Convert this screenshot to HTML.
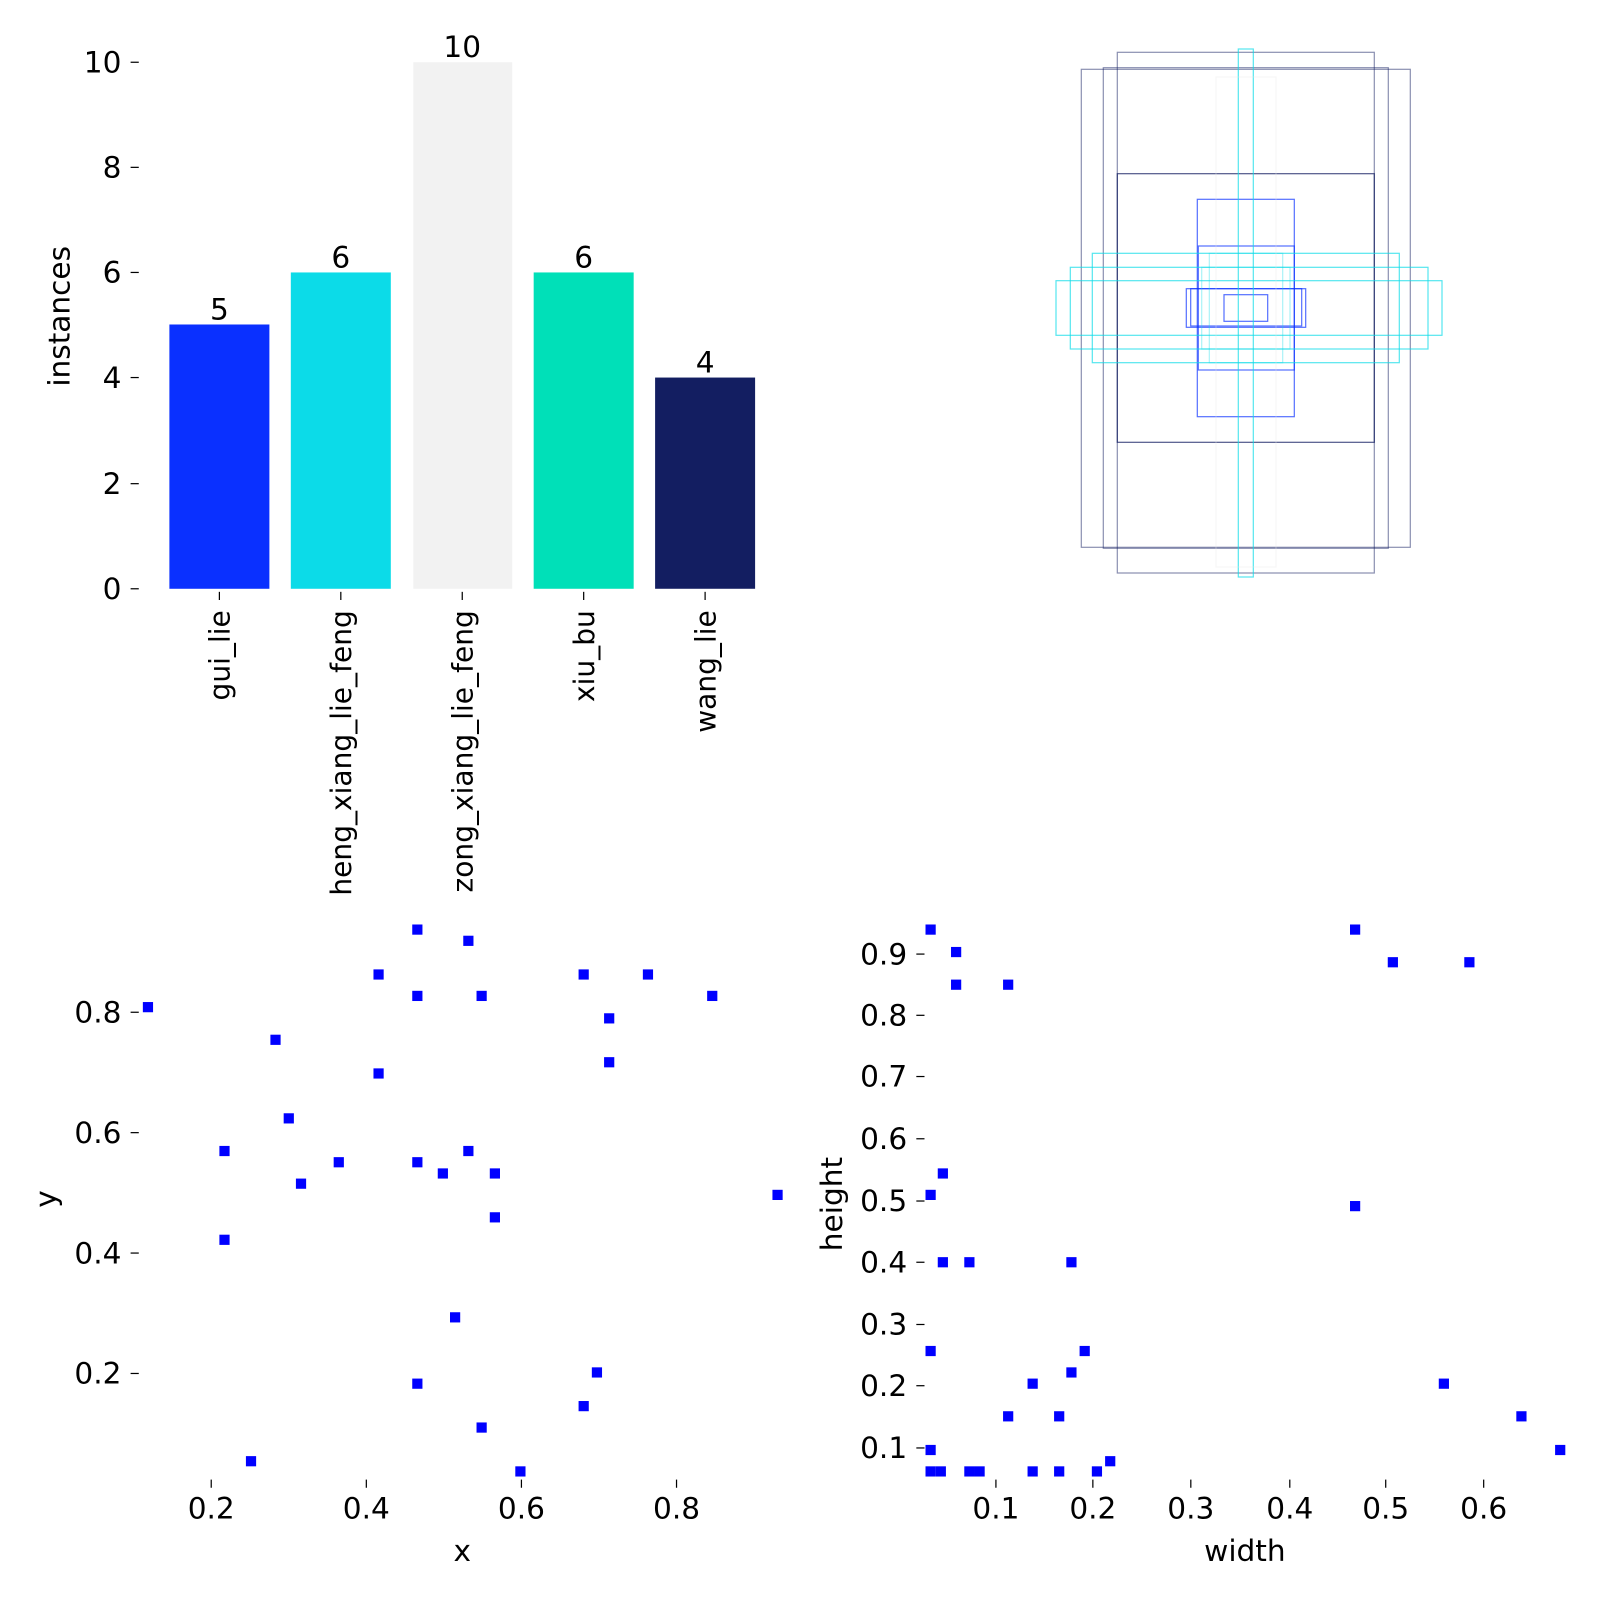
<!DOCTYPE html>
<html><head><meta charset="utf-8"><style>html,body{margin:0;padding:0;background:#fff}svg{display:block}text{font-family:"DejaVu Sans","Liberation Sans",sans-serif;fill:#000}</style></head><body>
<svg width="1600" height="1600" viewBox="0 0 1568 1568" xmlns="http://www.w3.org/2000/svg">
<rect width="1568" height="1568" fill="#fff"/>
<!-- bar chart -->
<g font-size="29">
<rect x="166" y="318" width="98" height="259" fill="#0a30ff"/>
<rect x="285" y="267" width="98" height="310" fill="#0cdbe8"/>
<rect x="405" y="61" width="97" height="516" fill="#f2f2f2"/>
<rect x="523" y="267" width="98" height="310" fill="#00e0b8"/>
<rect x="642" y="370" width="98" height="207" fill="#131e61"/>
<g text-anchor="middle"><text x="215" y="313">5</text><text x="334" y="262">6</text><text x="453" y="56">10</text><text x="572" y="262">6</text><text x="691" y="365">4</text></g>
<g stroke="#000" stroke-width="1.2"><line x1="128" x2="136" y1="577" y2="577"/><line x1="128" x2="136" y1="474" y2="474"/><line x1="128" x2="136" y1="370" y2="370"/><line x1="128" x2="136" y1="267" y2="267"/><line x1="128" x2="136" y1="164" y2="164"/><line x1="128" x2="136" y1="61" y2="61"/>
<line x1="215" x2="215" y1="580" y2="588"/><line x1="334" x2="334" y1="580" y2="588"/><line x1="453" x2="453" y1="580" y2="588"/><line x1="572" x2="572" y1="580" y2="588"/><line x1="691" x2="691" y1="580" y2="588"/></g>
<g text-anchor="end"><text x="119" y="587">0</text><text x="119" y="484">2</text><text x="119" y="380">4</text><text x="119" y="277">6</text><text x="119" y="174">8</text><text x="119" y="71">10</text></g>
<text transform="translate(68,310) rotate(-90)" text-anchor="middle">instances</text>
<g text-anchor="end" font-size="27.5">
<text transform="translate(225,598) rotate(-90)">gui_lie</text>
<text transform="translate(344,598) rotate(-90)">heng_xiang_lie_feng</text>
<text transform="translate(463,598) rotate(-90)">zong_xiang_lie_feng</text>
<text transform="translate(582,598) rotate(-90)">xiu_bu</text>
<text transform="translate(701,598) rotate(-90)">wang_lie</text>
</g>
</g>
<!-- boxes -->
<g transform="scale(0.98)" fill="none" stroke-width="1.2">
<g stroke="#131e61" stroke-opacity="0.5">
<rect x="1117.3" y="52.3" width="257" height="520.7"/>
<rect x="1103.3" y="67.7" width="285" height="480.6"/>
<rect x="1081.3" y="69.3" width="329" height="478"/>
<rect x="1117.3" y="173.7" width="257" height="268.6" stroke-opacity="0.75"/>
</g>
<g stroke="#0a30ff" stroke-opacity="0.7">
<rect x="1197.3" y="199.3" width="97" height="217.4"/>
<rect x="1198.3" y="246" width="96" height="124"/>
<rect x="1186.3" y="288.7" width="119.4" height="38.6"/>
<rect x="1190.7" y="288.7" width="111" height="37.3"/>
<rect x="1224" y="294.7" width="43.7" height="26.6"/>
</g>
<g stroke="#0cdbe8" stroke-opacity="0.7">
<rect x="1238.3" y="49" width="15" height="528"/>
<rect x="1092.3" y="253.3" width="307" height="109.4"/>
<rect x="1070.3" y="267.3" width="357.7" height="81.7"/>
<rect x="1056" y="280.7" width="386" height="54.6"/>
<rect x="1201.7" y="267.3" width="88.3" height="81.7" stroke-opacity="0.35"/>
<rect x="1209.3" y="253.3" width="73.4" height="109.4" stroke-opacity="0.35"/>
</g>
<g stroke="#e8e8e8" stroke-opacity="0.35"><rect x="1216" y="77" width="60" height="490"/></g>
</g>
<!-- scatter x,y -->
<g fill="#0000ff">
<rect x="140" y="982" width="10" height="10"/><rect x="265" y="1014" width="10" height="10"/><rect x="366" y="950" width="10" height="10"/><rect x="404" y="906" width="10" height="10"/><rect x="454" y="917" width="10" height="10"/><rect x="404" y="971" width="10" height="10"/><rect x="467" y="971" width="10" height="10"/><rect x="567" y="950" width="10" height="10"/><rect x="630" y="950" width="10" height="10"/><rect x="693" y="971" width="10" height="10"/><rect x="592" y="993" width="10" height="10"/><rect x="366" y="1047" width="10" height="10"/><rect x="592" y="1036" width="10" height="10"/><rect x="278" y="1091" width="10" height="10"/><rect x="215" y="1123" width="10" height="10"/><rect x="327" y="1134" width="10" height="10"/><rect x="404" y="1134" width="10" height="10"/><rect x="454" y="1123" width="10" height="10"/><rect x="290" y="1155" width="10" height="10"/><rect x="429" y="1145" width="10" height="10"/><rect x="480" y="1145" width="10" height="10"/><rect x="480" y="1188" width="10" height="10"/><rect x="757" y="1166" width="10" height="10"/><rect x="215" y="1210" width="10" height="10"/><rect x="441" y="1286" width="10" height="10"/><rect x="404" y="1351" width="10" height="10"/><rect x="580" y="1340" width="10" height="10"/><rect x="567" y="1373" width="10" height="10"/><rect x="467" y="1394" width="10" height="10"/><rect x="241" y="1427" width="10" height="10"/><rect x="505" y="1437" width="10" height="10"/>
</g>
<g font-size="29">
<g stroke="#000" stroke-width="1.2"><line x1="128" x2="136" y1="992" y2="992"/><line x1="128" x2="136" y1="1110" y2="1110"/><line x1="128" x2="136" y1="1228" y2="1228"/><line x1="128" x2="136" y1="1346" y2="1346"/>
<line x1="207" x2="207" y1="1450" y2="1458"/><line x1="359" x2="359" y1="1450" y2="1458"/><line x1="511" x2="511" y1="1450" y2="1458"/><line x1="663" x2="663" y1="1450" y2="1458"/></g>
<g text-anchor="end"><text x="119" y="1002">0.8</text><text x="119" y="1120">0.6</text><text x="119" y="1238">0.4</text><text x="119" y="1356">0.2</text></g>
<g text-anchor="middle"><text x="207" y="1488">0.2</text><text x="359" y="1488">0.4</text><text x="511" y="1488">0.6</text><text x="663" y="1488">0.8</text><text x="453" y="1530">x</text></g>
<text transform="translate(55,1175) rotate(-90)" text-anchor="middle">y</text>
</g>
<!-- scatter w,h -->
<g fill="#0000ff">
<rect x="907" y="906" width="10" height="10"/><rect x="932" y="928" width="10" height="10"/><rect x="932" y="960" width="10" height="10"/><rect x="983" y="960" width="10" height="10"/><rect x="1323" y="906" width="10" height="10"/><rect x="1360" y="938" width="10" height="10"/><rect x="1435" y="938" width="10" height="10"/><rect x="919" y="1145" width="10" height="10"/><rect x="907" y="1166" width="10" height="10"/><rect x="919" y="1232" width="10" height="10"/><rect x="945" y="1232" width="10" height="10"/><rect x="1045" y="1232" width="10" height="10"/><rect x="1323" y="1177" width="10" height="10"/><rect x="907" y="1319" width="10" height="10"/><rect x="1058" y="1319" width="10" height="10"/><rect x="1045" y="1340" width="10" height="10"/><rect x="1007" y="1351" width="10" height="10"/><rect x="1410" y="1351" width="10" height="10"/><rect x="983" y="1383" width="10" height="10"/><rect x="1033" y="1383" width="10" height="10"/><rect x="1486" y="1383" width="10" height="10"/><rect x="907" y="1416" width="10" height="10"/><rect x="1524" y="1416" width="10" height="10"/><rect x="907" y="1437" width="10" height="10"/><rect x="917" y="1437" width="10" height="10"/><rect x="945" y="1437" width="10" height="10"/><rect x="955" y="1437" width="10" height="10"/><rect x="1007" y="1437" width="10" height="10"/><rect x="1033" y="1437" width="10" height="10"/><rect x="1070" y="1437" width="10" height="10"/><rect x="1083" y="1427" width="10" height="10"/>
</g>
<g font-size="29">
<g stroke="#000" stroke-width="1.2">
<line x1="898" x2="906" y1="935" y2="935"/><line x1="898" x2="906" y1="995" y2="995"/><line x1="898" x2="906" y1="1055" y2="1055"/><line x1="898" x2="906" y1="1116" y2="1116"/><line x1="898" x2="906" y1="1177" y2="1177"/><line x1="898" x2="906" y1="1237" y2="1237"/><line x1="898" x2="906" y1="1298" y2="1298"/><line x1="898" x2="906" y1="1358" y2="1358"/><line x1="898" x2="906" y1="1419" y2="1419"/>
<line x1="976" x2="976" y1="1450" y2="1458"/><line x1="1071" x2="1071" y1="1450" y2="1458"/><line x1="1167" x2="1167" y1="1450" y2="1458"/><line x1="1264" x2="1264" y1="1450" y2="1458"/><line x1="1358" x2="1358" y1="1450" y2="1458"/><line x1="1454" x2="1454" y1="1450" y2="1458"/></g>
<g text-anchor="end"><text x="889" y="945">0.9</text><text x="889" y="1005">0.8</text><text x="889" y="1065">0.7</text><text x="889" y="1126">0.6</text><text x="889" y="1187">0.5</text><text x="889" y="1247">0.4</text><text x="889" y="1308">0.3</text><text x="889" y="1368">0.2</text><text x="889" y="1429">0.1</text></g>
<g text-anchor="middle"><text x="976" y="1488">0.1</text><text x="1071" y="1488">0.2</text><text x="1167" y="1488">0.3</text><text x="1264" y="1488">0.4</text><text x="1358" y="1488">0.5</text><text x="1454" y="1488">0.6</text><text x="1220" y="1530">width</text></g>
<text transform="translate(825,1180) rotate(-90)" text-anchor="middle">height</text>
</g>
</svg>
</body></html>
